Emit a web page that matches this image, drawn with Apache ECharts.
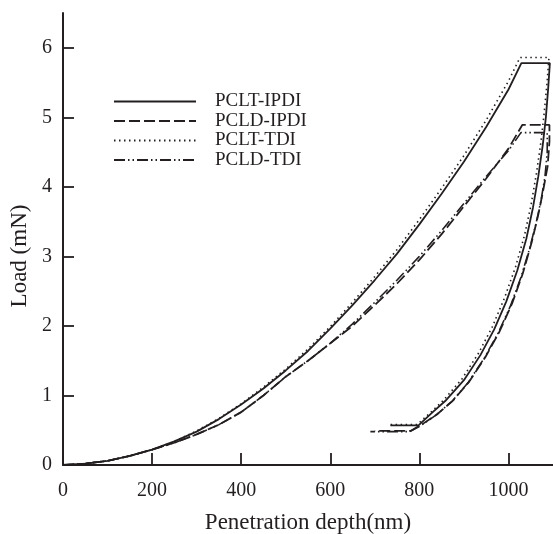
<!DOCTYPE html>
<html>
<head>
<meta charset="utf-8">
<script src="https://cdn.jsdelivr.net/npm/echarts@6/dist/echarts.min.js"></script>
<style>html,body{margin:0;padding:0;background:#fff;}#c{width:553px;height:534px;}</style>
</head>
<body>
<div id="c"></div>
<script>
// ---- data ----
const seriesNames = ['PCLT-IPDI', 'PCLD-IPDI', 'PCLT-TDI', 'PCLD-TDI'];
const xTicks = [0, 200, 400, 600, 800, 1000];
const yTicks = [0, 1, 2, 3, 4, 5, 6];

const pcltIpdiDepth = [0,50,100,150,200,250,300,350,400,450,500,550,600,650,700,750,800,850,900,950,1000,1029,1093,1089,1084,1077,1067,1055,1040,1020,995,968,937,900,858,830,798,735];
const pcltIpdiLoad  = [0,0.02,0.06,0.13,0.22,0.34,0.48,0.66,0.87,1.1,1.36,1.64,1.96,2.3,2.66,3.04,3.46,3.9,4.36,4.86,5.4,5.78,5.78,5.4,5.0,4.6,4.15,3.7,3.25,2.8,2.35,1.95,1.58,1.22,0.92,0.76,0.57,0.57];

const pcldIpdiDepth = [0,50,100,150,200,250,300,350,400,450,500,550,600,650,700,750,800,850,900,950,1000,1031,1092,1092,1088,1078,1067,1052,1032,1008,980,948,912,876,840,805,780,700];
const pcldIpdiLoad  = [0,0.02,0.06,0.13,0.22,0.32,0.44,0.58,0.76,1.0,1.27,1.5,1.75,2.0,2.3,2.61,2.95,3.32,3.72,4.12,4.55,4.89,4.89,4.65,4.3,3.95,3.6,3.2,2.75,2.32,1.92,1.55,1.2,0.93,0.73,0.58,0.49,0.49];

const pcltTdiDepth = [0,50,100,150,200,250,300,350,400,450,500,550,600,650,700,750,800,850,900,950,1000,1026,1091,1086,1080,1073,1063,1051,1036,1016,991,964,933,896,854,826,795,730];
const pcltTdiLoad  = [0,0.02,0.06,0.13,0.22,0.34,0.49,0.67,0.88,1.12,1.38,1.67,1.99,2.34,2.71,3.1,3.53,3.98,4.45,4.96,5.52,5.86,5.86,5.45,5.05,4.65,4.2,3.75,3.3,2.85,2.4,1.99,1.61,1.24,0.93,0.76,0.58,0.58];

const pcldTdiDepth = [0,50,100,150,200,250,300,350,400,450,500,550,600,650,700,750,800,850,900,950,1000,1028,1087,1087,1082,1073,1061,1046,1027,1004,977,946,910,874,838,804,778,690];
const pcldTdiLoad  = [0,0.02,0.06,0.13,0.22,0.32,0.44,0.58,0.76,1.0,1.27,1.5,1.75,2.03,2.34,2.66,3.0,3.37,3.76,4.15,4.52,4.78,4.78,4.5,4.15,3.8,3.45,3.08,2.68,2.28,1.9,1.54,1.19,0.92,0.72,0.57,0.48,0.48];

// ---- build ----
const zip = (xs, ys) => xs.map((x, i) => [x, ys[i]]);
const ink = '#231f20';
const font = 'Liberation Serif';
const styles = [
  { type: 'solid', width: 1.8 },
  { type: [11, 4], width: 1.8 },
  { type: [1.5, 3.5], width: 1.6 },
  { type: [11, 3, 1.5, 3, 1.5, 3], width: 1.6 }
];
const datasets = [
  zip(pcltIpdiDepth, pcltIpdiLoad),
  zip(pcldIpdiDepth, pcldIpdiLoad),
  zip(pcltTdiDepth, pcltTdiLoad),
  zip(pcldTdiDepth, pcldTdiLoad)
];

const chart = echarts.init(document.getElementById('c'), null, { renderer: 'canvas' });
chart.setOption({
  animation: false,
  backgroundColor: '#fff',
  textStyle: { fontFamily: font, color: ink },
  grid: { left: 63, right: 0, top: 13, bottom: 69, containLabel: false, outerBoundsMode: 'none' },
  legend: {
    orient: 'vertical',
    left: 108,
    top: 87,
    itemWidth: 82,
    itemHeight: 14,
    itemGap: 0.5,
    data: seriesNames,
    itemStyle: { opacity: 0 },
    textStyle: { fontFamily: font, fontSize: 19, color: ink, lineHeight: 14, padding: [0, 0, 0, 14] }
  },
  xAxis: {
    type: 'value',
    min: 0, max: 1100, interval: 200,
    name: 'Penetration depth(nm)',
    nameLocation: 'middle',
    nameGap: 46,
    nameTextStyle: { fontFamily: font, fontSize: 23, color: ink },
    axisLine: { show: true, lineStyle: { color: ink, width: 2 } },
    axisTick: { show: true, inside: true, length: 12, lineStyle: { color: ink, width: 1.8 }, customValues: xTicks },
    axisLabel: { fontFamily: font, fontSize: 20, color: ink, margin: 16, customValues: xTicks, formatter: v => String(v) },
    splitLine: { show: false }
  },
  yAxis: {
    type: 'value',
    min: 0, max: 6.5, interval: 1,
    name: 'Load (mN)',
    nameLocation: 'middle',
    nameGap: 29,
    nameRotate: 90,
    nameTextStyle: { fontFamily: font, fontSize: 23, color: ink, padding: [0, 34, 0, 0] },
    axisLine: { show: true, lineStyle: { color: ink, width: 2 } },
    axisTick: { show: true, inside: true, length: 11, lineStyle: { color: ink, width: 1.8 }, customValues: yTicks },
    axisLabel: { fontFamily: font, fontSize: 20, color: ink, margin: 11, customValues: yTicks, formatter: v => String(v) },
    splitLine: { show: false }
  },
  series: seriesNames.map((n, i) => ({
    name: n,
    type: 'line',
    data: datasets[i],
    showSymbol: false,
    symbol: 'none',
    smooth: false,
    lineStyle: { color: ink, type: styles[i].type, width: styles[i].width },
    itemStyle: { color: ink },
    z: 2
  }))
});
</script>
</body>
</html>
